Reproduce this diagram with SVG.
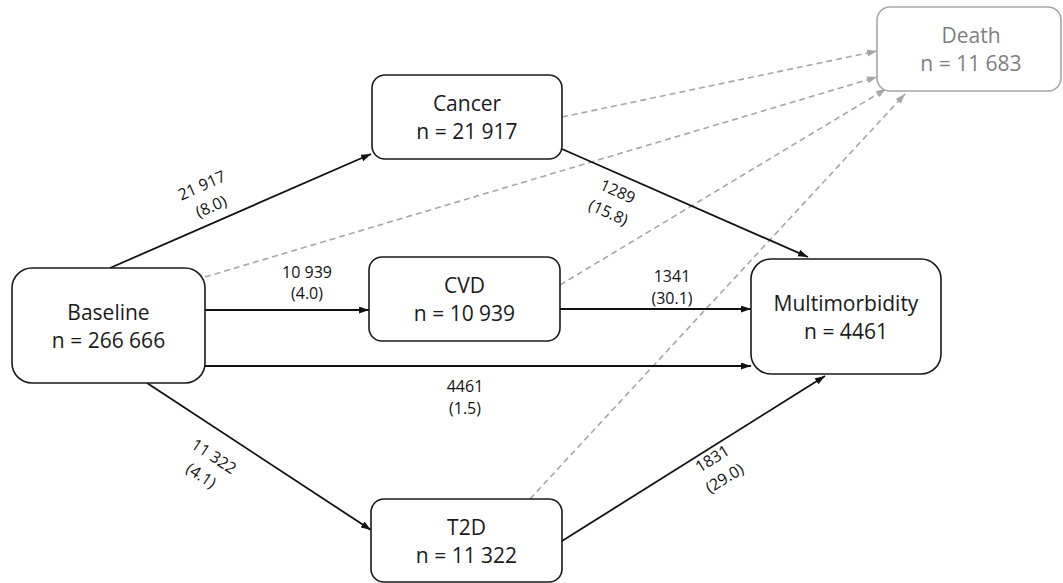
<svg xmlns="http://www.w3.org/2000/svg" width="1063" height="583" viewBox="0 0 1063 583">
<style>
.box{fill:#fff;stroke:#1a1a1a;stroke-width:1.6}
.gbox{fill:#fff;stroke:#a6a6a6;stroke-width:1.6}
.nt{font-family:"Open Sans","Liberation Sans",sans-serif;font-size:21px;fill:#1a1a1a;text-anchor:middle}
.gt{fill:#7f7f7f}
.et{font-family:"Open Sans","Liberation Sans",sans-serif;font-size:16px;fill:#111;text-anchor:middle}
.ln{stroke:#111;stroke-width:1.8;fill:none}
.dl{stroke:#a6a6a6;stroke-width:1.6;stroke-dasharray:6 4;fill:none}
</style>
<defs>
<marker id="ah" markerUnits="userSpaceOnUse" markerWidth="11" markerHeight="8" refX="10" refY="3.5" orient="auto">
<path d="M0,0 L10,3.5 L0,7 Z" fill="#111"/>
</marker>
<marker id="ag" markerUnits="userSpaceOnUse" markerWidth="11" markerHeight="8" refX="10" refY="3.5" orient="auto">
<path d="M0,0 L10,3.5 L0,7 Z" fill="#a6a6a6"/>
</marker>
</defs>
<rect width="1063" height="583" fill="#fff"/>
<g id="connectors">
<line class="dl" x1="562" y1="117" x2="877" y2="51" marker-end="url(#ag)"/>
<line class="dl" x1="205" y1="277" x2="877" y2="77" marker-end="url(#ag)"/>
<line class="dl" x1="560" y1="285" x2="886" y2="89" marker-end="url(#ag)"/>
<line class="dl" x1="530" y1="499" x2="905" y2="94" marker-end="url(#ag)"/>
<line class="ln" x1="110" y1="268" x2="371" y2="154" marker-end="url(#ah)"/>
<line class="ln" x1="205" y1="310" x2="369" y2="310" marker-end="url(#ah)"/>
<line class="ln" x1="205" y1="366" x2="751" y2="366" marker-end="url(#ah)"/>
<line class="ln" x1="147" y1="383" x2="371" y2="530" marker-end="url(#ah)"/>
<line class="ln" x1="562" y1="149" x2="808" y2="257" marker-end="url(#ah)"/>
<line class="ln" x1="560" y1="309" x2="751" y2="309" marker-end="url(#ah)"/>
<line class="ln" x1="562" y1="541" x2="825" y2="376" marker-end="url(#ah)"/>
<g transform="translate(206.5,196) rotate(-24)"><text class="et" x="0" y="-6">21 917</text><text class="et" x="0" y="17">(8.0)</text></g>
<text class="et" x="307" y="278">10 939</text><text class="et" x="307" y="299">(4.0)</text>
<text class="et" x="465" y="392">4461</text><text class="et" x="465" y="414">(1.5)</text>
<g transform="translate(207.5,466) rotate(33.5)"><text class="et" x="0" y="-6">11 322</text><text class="et" x="0" y="17">(4.1)</text></g>
<g transform="translate(613,202) rotate(24)"><text class="et" x="0" y="-6">1289</text><text class="et" x="0" y="17">(15.8)</text></g>
<text class="et" x="672" y="282">1341</text><text class="et" x="672" y="304">(30.1)</text>
<g transform="translate(718.5,468.5) rotate(-32)"><text class="et" x="0" y="-6">1831</text><text class="et" x="0" y="17">(29.0)</text></g>
</g>
<g id="baseline"><rect class="box" x="12" y="268" width="193" height="115" rx="20"/><text class="nt" x="108.5" y="320">Baseline</text><text class="nt" x="108.5" y="348">n = 266 666</text></g>
<g id="cancer"><rect class="box" x="372" y="75" width="190" height="84" rx="13"/><text class="nt" x="467" y="111">Cancer</text><text class="nt" x="467" y="139">n = 21 917</text></g>
<g id="cvd"><rect class="box" x="369" y="257" width="191" height="84" rx="13"/><text class="nt" x="464.5" y="293">CVD</text><text class="nt" x="464.5" y="321">n = 10 939</text></g>
<g id="t2d"><rect class="box" x="371" y="499" width="191" height="83" rx="13"/><text class="nt" x="466.5" y="535">T2D</text><text class="nt" x="466.5" y="563">n = 11 322</text></g>
<g id="multimorbidity"><rect class="box" x="751" y="259" width="190" height="115" rx="20"/><text class="nt" x="846" y="311">Multimorbidity</text><text class="nt" x="846" y="339">n = 4461</text></g>
<g id="death"><rect class="gbox" x="877" y="7" width="184" height="84" rx="13"/><text class="nt gt" x="971" y="43">Death</text><text class="nt gt" x="971" y="71">n = 11 683</text></g>
</svg>
